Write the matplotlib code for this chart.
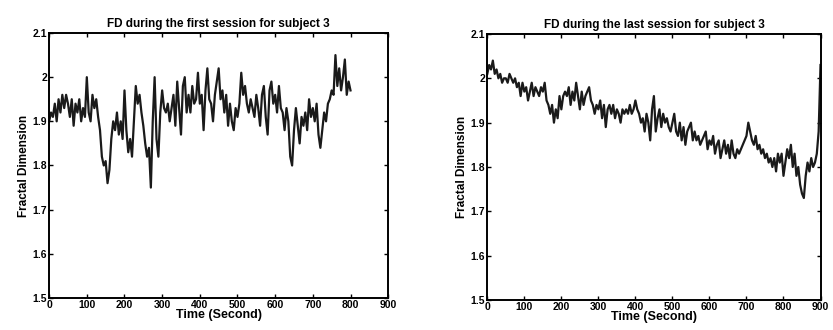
import numpy as np
import matplotlib
matplotlib.use('Agg')
import matplotlib.pyplot as plt

# time in seconds, 5 s steps
t_first = np.arange(0, 805, 5)
fd_first = [1.90, 1.92, 1.91, 1.94, 1.90, 1.95, 1.92, 1.96, 1.93, 1.96,
            1.94, 1.91, 1.95, 1.89, 1.94, 1.92, 1.95, 1.90, 1.93, 1.91,
            2.00, 1.92, 1.90, 1.96, 1.93, 1.95, 1.91, 1.88, 1.82, 1.80,
            1.81, 1.76, 1.79, 1.86, 1.90, 1.88, 1.92, 1.87, 1.90, 1.86,
            1.97, 1.88, 1.83, 1.86, 1.82, 1.90, 1.98, 1.94, 1.96, 1.92,
            1.89, 1.85, 1.82, 1.84, 1.75, 1.90, 2.00, 1.86, 1.82, 1.92,
            1.97, 1.93, 1.92, 1.94, 1.90, 1.93, 1.96, 1.89, 1.99, 1.93,
            1.87, 1.98, 2.00, 1.92, 1.96, 1.92, 1.98, 1.94, 1.95, 2.01,
            1.94, 1.96, 1.88, 1.97, 2.02, 1.95, 1.94, 1.90, 1.96, 1.99,
            2.02, 1.95, 1.97, 1.92, 1.96, 1.89, 1.94, 1.90, 1.88, 1.93,
            1.91, 1.94, 2.01, 1.96, 1.98, 1.94, 1.92, 1.95, 1.93, 1.91,
            1.96, 1.93, 1.89, 1.96, 1.98, 1.91, 1.87, 1.97, 1.99, 1.94,
            1.96, 1.92, 1.98, 1.93, 1.92, 1.88, 1.93, 1.90, 1.82, 1.80,
            1.88, 1.93, 1.89, 1.85, 1.91, 1.89, 1.92, 1.88, 1.95, 1.91,
            1.93, 1.90, 1.94, 1.87, 1.84, 1.88, 1.92, 1.90, 1.94, 1.95,
            1.97, 1.96, 2.05, 1.98, 2.02, 1.97, 2.00, 2.04, 1.96, 1.99,
            1.97]

t_last = np.arange(0, 905, 5)
fd_last = [2.01, 2.03, 2.02, 2.04, 2.01, 2.02, 2.00, 2.01, 1.99, 2.00,
           2.00, 1.99, 2.01, 2.00, 1.99, 2.00, 1.98, 1.99, 1.96, 1.99,
           1.97, 1.98, 1.95, 1.97, 1.99, 1.96, 1.98, 1.97, 1.96, 1.98,
           1.97, 1.99, 1.95, 1.94, 1.92, 1.94, 1.90, 1.93, 1.91, 1.96,
           1.93, 1.96, 1.97, 1.96, 1.98, 1.94, 1.97, 1.95, 1.99, 1.96,
           1.93, 1.97, 1.94, 1.96, 1.97, 1.98, 1.95, 1.94, 1.92, 1.94,
           1.93, 1.95, 1.91, 1.94, 1.89, 1.93, 1.94, 1.92, 1.94, 1.91,
           1.93, 1.92, 1.90, 1.93, 1.92, 1.93, 1.92, 1.94, 1.92, 1.93,
           1.95, 1.93, 1.92, 1.90, 1.91, 1.88, 1.92, 1.90, 1.86, 1.93,
           1.96, 1.88, 1.91, 1.93, 1.89, 1.92, 1.90, 1.91, 1.89, 1.88,
           1.90, 1.92, 1.88, 1.87, 1.90, 1.86, 1.89, 1.85, 1.88, 1.89,
           1.90, 1.86, 1.88, 1.86, 1.87, 1.85, 1.86, 1.87, 1.88, 1.84,
           1.86, 1.85, 1.87, 1.83, 1.85, 1.86, 1.82, 1.84, 1.86, 1.83,
           1.85, 1.82, 1.86, 1.83, 1.82, 1.84, 1.83, 1.84, 1.85, 1.86,
           1.87, 1.90, 1.88, 1.86, 1.85, 1.87, 1.84, 1.85, 1.83, 1.84,
           1.82, 1.83, 1.81, 1.82, 1.80, 1.82, 1.79, 1.83, 1.81, 1.83,
           1.78, 1.81, 1.84, 1.82, 1.85, 1.80, 1.83, 1.78, 1.80, 1.76,
           1.74, 1.73, 1.78, 1.81, 1.79, 1.82, 1.80, 1.81, 1.83, 1.88,
           2.03]

titles = ['FD during the first session for subject 3',
          'FD during the last session for subject 3']
yticks = [1.5, 1.6, 1.7, 1.8, 1.9, 2.0, 2.1]
ytick_labels = ['1.5', '1.6', '1.7', '1.8', '1.9', '2', '2.1']
xticks = list(range(0, 1000, 100))

plt.rcParams['font.family'] = 'Liberation Sans'
plt.rcParams['font.weight'] = 'bold'

fig = plt.figure(figsize=(8.33, 3.3), dpi=100)
ax1 = fig.add_axes([0.059, 0.097, 0.407, 0.803])
ax2 = fig.add_axes([0.585, 0.091, 0.400, 0.806])

for ax, t, fd, title in [(ax1, t_first, fd_first, titles[0]),
                         (ax2, t_last, fd_last, titles[1])]:
    ax.plot(t, fd, color='#1a1a1a', lw=1.6)
    ax.set_xlim(0, 900)
    ax.set_ylim(1.5, 2.1)
    ax.set_xticks(xticks)
    ax.set_yticks(yticks)
    ax.set_yticklabels(ytick_labels)
    ax.tick_params(direction='in', top=True, right=True, length=3,
                   width=1, labelsize=7.5, pad=1.5)
    for s in ax.spines.values():
        s.set_linewidth(1.4)
    ax.set_title(title, fontsize=8.5, fontweight='bold', pad=4)
    ax.set_xlabel('Time (Second)', fontsize=9, fontweight='bold', labelpad=-1)
    ax.set_ylabel('Fractal Dimension', fontsize=8.5, fontweight='bold', labelpad=2)

fig.savefig('out.png', dpi=100)
